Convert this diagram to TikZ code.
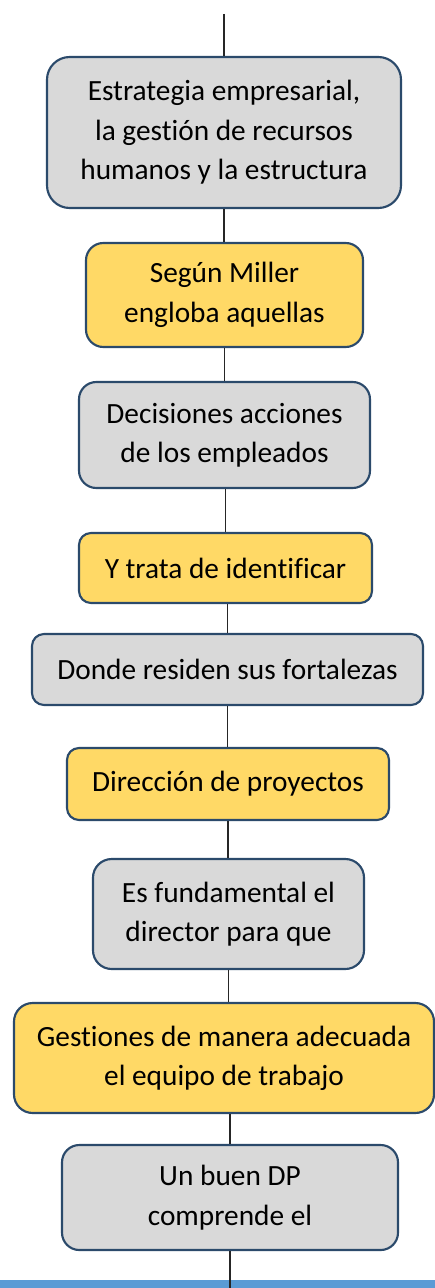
\documentclass[tikz,border=0pt]{standalone}
\usepackage{fontspec}
\setmainfont{Carlito}[Ligatures=NoCommon]
\definecolor{boxgray}{HTML}{D9D9D9}
\definecolor{boxgold}{HTML}{FFD966}
\definecolor{boxedge}{HTML}{2B4A6B}
\definecolor{barblue}{HTML}{5B9BD5}
\tikzstyle{graybox} = [rectangle, draw=boxedge, line width=1.6pt, fill=boxgray, align=center, inner sep=0pt, text=black, font=\fontsize{22}{29.5}\selectfont]
\tikzstyle{goldbox} = [graybox, fill=boxgold]
\tikzstyle{link} = [line width=0.9pt, draw=black!85]

\begin{document}
\begin{tikzpicture}[x=0.75pt, y=-0.75pt]
    \useasboundingbox (0,0) rectangle (435,1288);
    \fill [barblue] (0,1280) rectangle (435,1288);

    \node (strat) [graybox, minimum width=265.5pt, minimum height=113.25pt, rounded corners=17pt] at (224,132.5) {Estrategia empresarial,\\la gestión de recursos\\humanos y la estructura};
    \node (miller) [goldbox, minimum width=207.75pt, minimum height=78pt, rounded corners=13pt] at (224.5,295) {Según Miller\\engloba aquellas};
    \node (decis) [graybox, minimum width=218.25pt, minimum height=79.5pt, rounded corners=13pt] at (224.5,435) {Decisiones acciones\\de los empleados};
    \node (ident) [goldbox, minimum width=219.75pt, minimum height=52.5pt, rounded corners=9pt] at (225.5,568) {Y trata de identificar};
    \node (fuerte) [graybox, minimum width=293.25pt, minimum height=53.25pt, rounded corners=9pt] at (227.5,669.5) {Donde residen sus fortalezas};
    \node (dirproy) [goldbox, minimum width=241.5pt, minimum height=54pt, rounded corners=9pt] at (228,784) {Dirección de proyectos};
    \node (director) [graybox, minimum width=203.25pt, minimum height=82.5pt, rounded corners=14pt] at (228.5,914) {Es fundamental el\\director para que};
    \node (equipo) [goldbox, minimum width=315pt, minimum height=82.5pt, rounded corners=14pt] at (224,1058) {Gestiones de manera adecuada\\el equipo de trabajo};
    \node (buendp) [graybox, minimum width=252pt, minimum height=78.75pt, rounded corners=13pt] at (230,1197.5) {Un buen DP\\comprende el};

    % loose ends above and below the chain
    \coordinate (topend) at (224,14);
    \coordinate (botend) at (230,1288);

    \draw [link] (topend) -- (topend |- strat.north);
    \draw [link] (strat.south) -- (strat.south |- miller.north);
    \draw [link] (miller.south) -- (miller.south |- decis.north);
    \draw [link] (ident.north |- decis.south) -- (ident.north);
    \draw [link] (fuerte.north |- ident.south) -- (fuerte.north);
    \draw [link] (fuerte.south) -- (fuerte.south |- dirproy.north);
    \draw [link] (dirproy.south) -- (dirproy.south |- director.north);
    \draw [link] (director.south) -- (director.south |- equipo.north);
    \draw [link] (buendp.north |- equipo.south) -- (buendp.north);
    \draw [link] (buendp.south) -- (botend);
\end{tikzpicture}
\end{document}
